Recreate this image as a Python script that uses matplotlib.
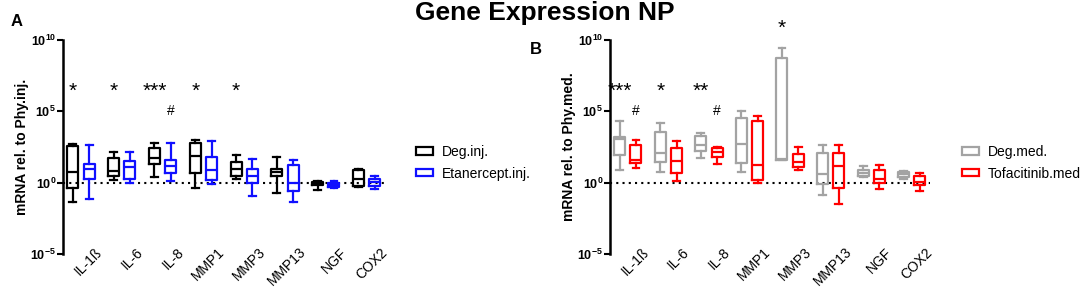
import numpy as np
import matplotlib
matplotlib.use("Agg")
import matplotlib.pyplot as plt
from matplotlib.patches import Patch
from matplotlib import transforms
from matplotlib.ticker import FixedLocator, FuncFormatter, NullLocator

plt.rcParams['font.family'] = ['Liberation Sans', 'DejaVu Sans']
plt.rcParams['mathtext.fontset'] = 'custom'
plt.rcParams['mathtext.rm'] = 'Liberation Sans:bold'
plt.rcParams['mathtext.bf'] = 'Liberation Sans:bold'
plt.rcParams['mathtext.it'] = 'Liberation Sans:bold'

# ---------------- data (log10 values: whislo, q1, median, q3, whishi) ----------------
categories = ["IL-1ß", "IL-6", "IL-8", "MMP1", "MMP3", "MMP13", "NGF", "COX2"]

deg_inj_log10 = [
    [-1.37, -0.38, 0.75, 2.55, 2.74],
    [0.21, 0.50, 0.80, 1.70, 2.15],
    [0.40, 1.34, 1.70, 2.41, 2.81],
    [-0.40, 0.68, 1.86, 2.81, 3.00],
    [0.26, 0.50, 0.94, 1.44, 1.91],
    [-0.71, 0.50, 0.75, 0.97, 1.77],
    [-0.50, -0.17, -0.05, 0.02, 0.09],
    [-0.31, -0.26, 0.28, 0.92, 0.97],
]
etanercept_inj_log10 = [
    [-1.11, 0.26, 0.94, 1.30, 2.67],
    [-0.05, 0.26, 1.08, 1.53, 2.15],
    [0.14, 0.68, 1.18, 1.60, 2.78],
    [-0.12, 0.19, 0.92, 1.77, 2.90],
    [-0.92, -0.02, 0.50, 0.94, 1.67],
    [-1.34, -0.61, -0.05, 1.23, 1.58],
    [-0.40, -0.33, -0.17, -0.05, 0.14],
    [-0.45, -0.26, 0.02, 0.26, 0.45],
]
deg_med_log10 = [
    [0.87, 1.96, 3.04, 3.21, 4.34],
    [0.75, 1.44, 2.10, 3.56, 4.20],
    [1.72, 2.24, 2.64, 3.30, 3.49],
    [0.75, 1.37, 2.69, 4.50, 5.05],
    [1.60, 1.60, 1.65, 8.73, 9.41],
    [-0.85, -0.09, 0.59, 2.10, 2.67],
    [0.40, 0.45, 0.71, 0.87, 1.20],
    [0.28, 0.38, 0.64, 0.78, 0.85],
]
tofacitinib_med_log10 = [
    [1.06, 1.39, 1.56, 2.67, 2.97],
    [0.09, 0.68, 1.51, 2.41, 2.92],
    [1.30, 1.77, 2.15, 2.41, 2.52],
    [-0.02, 0.17, 1.27, 4.29, 4.67],
    [0.87, 1.08, 1.44, 2.03, 2.50],
    [-1.49, -0.40, 1.18, 2.08, 2.62],
    [-0.41, 0.00, 0.26, 0.88, 1.23],
    [-0.58, -0.13, 0.05, 0.46, 0.65],
]

stars_A = ["*", "*", "***", "*", "*", "", "", ""]
hash_A = ["", "", "#", "", "", "", "", ""]
stars_B = ["***", "*", "**", "", "*", "", "", ""]
hash_B = ["#", "", "#", "", "", "", "", ""]

yticks_exp = [-5, 0, 5, 10]

W, H = 1084, 297
fig = plt.figure(figsize=(W / 100, H / 100), dpi=100)


def px_axes(left, right, top, bottom):
    return fig.add_axes([left / W, 1 - bottom / H, (right - left) / W, (bottom - top) / H])


def stats_from(rows):
    out = []
    for r in rows:
        lo, q1, med, q3, hi = [10 ** v for v in r]
        out.append(dict(whislo=lo, q1=q1, med=med, q3=q3, whishi=hi, fliers=[]))
    return out


def draw_panel(ax, s1, s2, c1, c2, stars, hashes, ylabel, labels):
    n = len(categories)
    x = np.arange(n)
    off = 0.2
    for stats, col, pos in ((s1, c1, x - off), (s2, c2, x + off)):
        ax.bxp(stats_from(stats), positions=pos, widths=0.27, showfliers=False,
               capwidths=0.17, manage_ticks=False,
               boxprops=dict(color=col, linewidth=1.6),
               medianprops=dict(color=col, linewidth=1.6),
               whiskerprops=dict(color=col, linewidth=1.6),
               capprops=dict(color=col, linewidth=1.6))
    ax.axhline(1, color='black', ls=(0, (1, 2)), lw=1.5, zorder=0)
    ax.set_yscale('log')
    ax.set_ylim(1e-5, 1e10)
    ax.set_xlim(-0.44, 7.45)
    for sp in ['top', 'right', 'bottom']:
        ax.spines[sp].set_visible(False)
    ax.spines['left'].set_linewidth(1.8)
    ax.yaxis.set_major_locator(FixedLocator([10.0 ** e for e in yticks_exp]))
    ax.yaxis.set_minor_locator(NullLocator())
    ax.yaxis.set_major_formatter(FuncFormatter(
        lambda v, p: r'$\mathbf{10^{%d}}$' % int(round(np.log10(v)))))
    ax.tick_params(axis='y', length=4, width=1.5, labelsize=9, pad=1)
    ax.set_xticks([])
    ax.set_ylabel(ylabel, fontsize=10, fontweight='bold')
    ax.yaxis.set_label_coords(-0.105, 0.5)
    # category labels
    trans = transforms.blended_transform_factory(ax.transData, ax.transAxes) + \
        transforms.ScaledTranslation(14 / 100, 9 / 100, fig.dpi_scale_trans)
    for i, lab in enumerate(labels):
        ax.text(x[i], 0, lab, transform=trans, rotation=45, ha='right', va='top',
                rotation_mode='anchor', fontsize=10)
    # significance marks
    for i in range(n):
        if stars[i]:
            ylog = max(6.4, s1[i][4] + 1.4)
            ax.text(x[i] - off, 10 ** ylog, stars[i], ha='center', va='center',
                    fontsize=15, clip_on=False)
        if hashes[i]:
            ax.text(x[i] + off, 10 ** 5.05, hashes[i], ha='center', va='center',
                    fontsize=10, clip_on=False)


axA = px_axes(63, 385, 40, 254)
draw_panel(axA, deg_inj_log10, etanercept_inj_log10, 'black', '#1010ff',
           stars_A, hash_A, 'mRNA rel. to Phy.inj.', categories)
axB = px_axes(610, 930, 40, 254)
draw_panel(axB, deg_med_log10, tofacitinib_med_log10, '#a3a3a3', '#ff0000',
           stars_B, hash_B, 'mRNA rel. to Phy.med.', categories)

# legends
leg_kw = dict(loc='upper left', frameon=False, fontsize=10, handlelength=1.2,
              handleheight=0.45, handletextpad=0.65, borderpad=0, borderaxespad=0,
              labelspacing=0.55)
fig.legend(handles=[Patch(facecolor='white', edgecolor='black', linewidth=1.6, label='Deg.inj.'),
                    Patch(facecolor='white', edgecolor='#1010ff', linewidth=1.6, label='Etanercept.inj.')],
           bbox_to_anchor=(416 / W, 1 - 145 / H), **leg_kw)
fig.legend(handles=[Patch(facecolor='white', edgecolor='#a3a3a3', linewidth=1.6, label='Deg.med.'),
                    Patch(facecolor='white', edgecolor='#ff0000', linewidth=1.6, label='Tofacitinib.med')],
           bbox_to_anchor=(962 / W, 1 - 145 / H), **leg_kw)

fig.text(545 / W, 1 - 13 / H, 'Gene Expression NP', ha='center', va='center',
         fontsize=19, fontweight='bold')
fig.text(17 / W, 1 - 21 / H, 'A', ha='center', va='center', fontsize=12, fontweight='bold')
fig.text(536 / W, 1 - 50 / H, 'B', ha='center', va='center', fontsize=12, fontweight='bold')

fig.savefig('out.png', dpi=100)
